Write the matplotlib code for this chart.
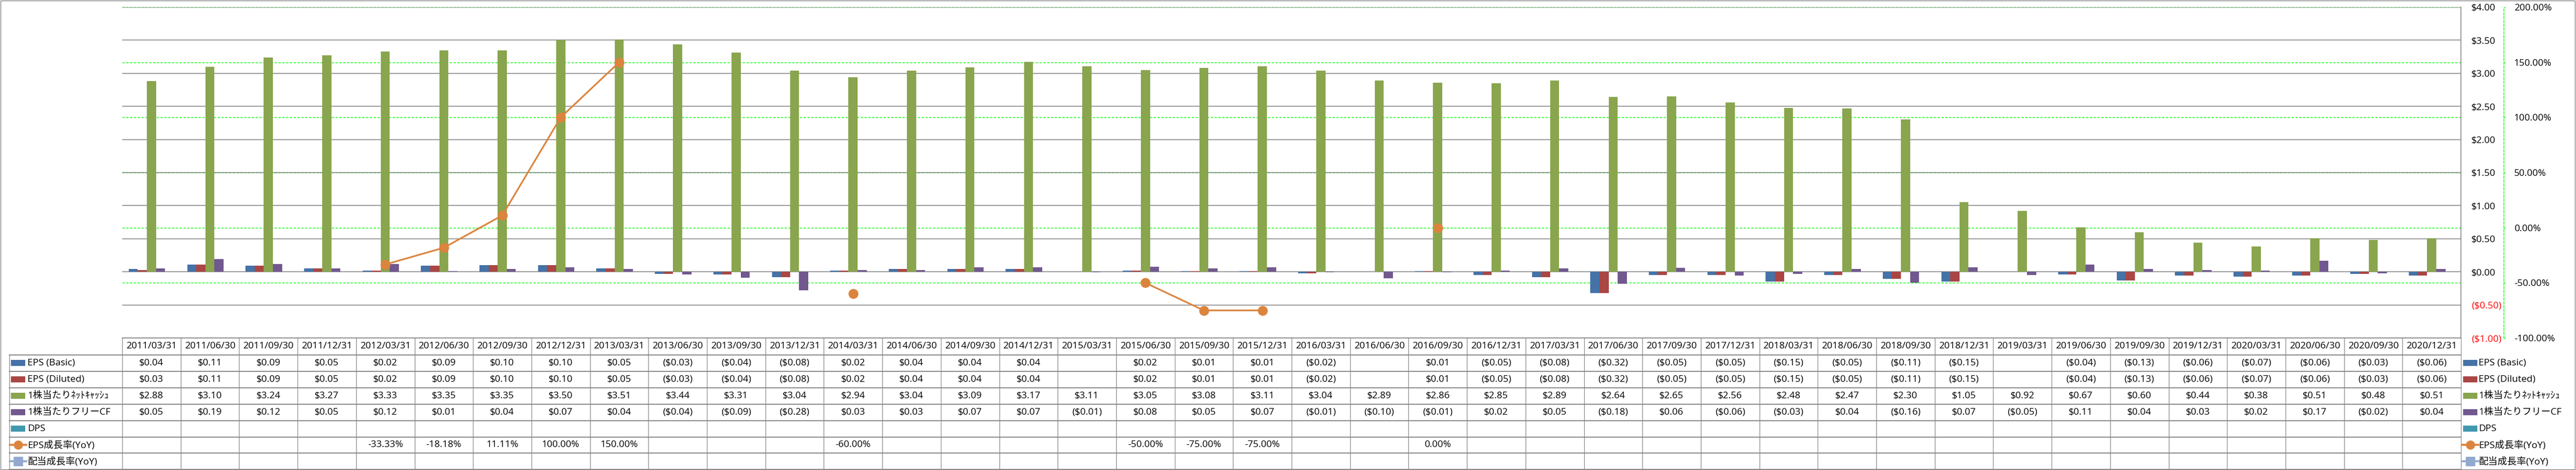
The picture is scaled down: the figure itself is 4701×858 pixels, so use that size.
"""
EPS / net cash per share chart with a data table underneath (Excel style)
"""
import numpy as np
import matplotlib
matplotlib.use('Agg')
import matplotlib.pyplot as plt
from matplotlib.transforms import blended_transform_factory
from matplotlib.patches import Rectangle
from matplotlib.lines import Line2D

plt.rcParams['font.family'] = ['Open Sans', 'Noto Sans CJK JP', 'DejaVu Sans']

########################################################################################################################
# Data
########################################################################################################################

dates = ['2011/03/31', '2011/06/30', '2011/09/30', '2011/12/31', '2012/03/31', '2012/06/30', '2012/09/30',
         '2012/12/31', '2013/03/31', '2013/06/30', '2013/09/30', '2013/12/31', '2014/03/31', '2014/06/30',
         '2014/09/30', '2014/12/31', '2015/03/31', '2015/06/30', '2015/09/30', '2015/12/31', '2016/03/31',
         '2016/06/30', '2016/09/30', '2016/12/31', '2017/03/31', '2017/06/30', '2017/09/30', '2017/12/31',
         '2018/03/31', '2018/06/30', '2018/09/30', '2018/12/31', '2019/03/31', '2019/06/30', '2019/09/30',
         '2019/12/31', '2020/03/31', '2020/06/30', '2020/09/30', '2020/12/31']

eps_basic = [0.04, 0.11, 0.09, 0.05, 0.02, 0.09, 0.10, 0.10, 0.05, -0.03, -0.04, -0.08, 0.02, 0.04, 0.04, 0.04,
             None, 0.02, 0.01, 0.01, -0.02, None, 0.01, -0.05, -0.08, -0.32, -0.05, -0.05, -0.15, -0.05, -0.11,
             -0.15, None, -0.04, -0.13, -0.06, -0.07, -0.06, -0.03, -0.06]

eps_diluted = [0.03, 0.11, 0.09, 0.05, 0.02, 0.09, 0.10, 0.10, 0.05, -0.03, -0.04, -0.08, 0.02, 0.04, 0.04, 0.04,
               None, 0.02, 0.01, 0.01, -0.02, None, 0.01, -0.05, -0.08, -0.32, -0.05, -0.05, -0.15, -0.05, -0.11,
               -0.15, None, -0.04, -0.13, -0.06, -0.07, -0.06, -0.03, -0.06]

net_cash = [2.88, 3.10, 3.24, 3.27, 3.33, 3.35, 3.35, 3.50, 3.51, 3.44, 3.31, 3.04, 2.94, 3.04, 3.09, 3.17,
            3.11, 3.05, 3.08, 3.11, 3.04, 2.89, 2.86, 2.85, 2.89, 2.64, 2.65, 2.56, 2.48, 2.47, 2.30, 1.05,
            0.92, 0.67, 0.60, 0.44, 0.38, 0.51, 0.48, 0.51]

free_cf = [0.05, 0.19, 0.12, 0.05, 0.12, 0.01, 0.04, 0.07, 0.04, -0.04, -0.09, -0.28, 0.03, 0.03, 0.07, 0.07,
           -0.01, 0.08, 0.05, 0.07, -0.01, -0.10, -0.01, 0.02, 0.05, -0.18, 0.06, -0.06, -0.03, 0.04, -0.16, 0.07,
           -0.05, 0.11, 0.04, 0.03, 0.02, 0.17, -0.02, 0.04]

dps = [None] * 40

eps_growth = [None, None, None, None, -33.33, -18.18, 11.11, 100.00, 150.00, None, None, None, -60.00, None,
              None, None, None, -50.00, -75.00, -75.00, None, None, 0.00, None, None, None, None, None, None,
              None, None, None, None, None, None, None, None, None, None, None]

div_growth = [None] * 40

bar_names = ['EPS (Basic)', 'EPS (Diluted)', '1株当たりﾈｯﾄｷｬｯｼｭ', '1株当たりフリーCF', 'DPS']
line_names = ['EPS成長率(YoY)', '配当成長率(YoY)']

usd_ticks = [-1.0, -0.5, 0.0, 0.5, 1.0, 1.5, 2.0, 2.5, 3.0, 3.5, 4.0]
pct_ticks = [-100, -50, 0, 50, 100, 150, 200]

########################################################################################################################
# Style / layout (pixels in a 4701x858 canvas)
########################################################################################################################

W, H = 4701, 858
PL, PR, PT, PB = 223, 4491, 13, 617
TAB_L = 17
HEAD_B = 648
ROW_H = 29.9
FS = 12.5
GRAY = '#868686'
LIME = '#00FF00'
bar_colors = ['#4572A7', '#AA4643', '#89A54E', '#71588F', '#4198AF']
line_colors = ['#DB843D', '#93A9CF']


def to_arr(vals):
    return np.array([np.nan if v is None else v for v in vals], dtype=float)


def money(v):
    if v is None or np.isnan(v):
        return ''
    if v < 0:
        return '(${:.2f})'.format(-v)
    return '${:.2f}'.format(v)


def pct(v):
    if v is None or np.isnan(v):
        return ''
    return '{:.2f}%'.format(v)


bars = [to_arr(s) for s in (eps_basic, eps_diluted, net_cash, free_cf, dps)]
lines = [to_arr(s) for s in (eps_growth, div_growth)]
n = len(dates)
x = np.arange(n) + 0.5

fig = plt.figure(figsize=(W / 100, H / 100), dpi=100)

# overlay in pixel coords for the table, legend and border
tab = fig.add_axes([0, 0, 1, 1], zorder=0)
tab.set_xlim(0, W)
tab.set_ylim(H, 0)
tab.axis('off')

ax = fig.add_axes([PL / W, 1 - PB / H, (PR - PL) / W, (PB - PT) / H], zorder=1)
ax.patch.set_alpha(0)
ax2 = ax.twinx()
ax2.set_zorder(2)

# bars
bw = 0.1556
for k, vals in enumerate(bars):
    ax.bar(x + (k - 2) * bw, vals, width=bw, color=bar_colors[k], linewidth=0, zorder=2)

lo, hi = usd_ticks[0], usd_ticks[-1]
plo, phi = pct_ticks[0], pct_ticks[-1]
ax.set_xlim(0, n)
ax.set_ylim(lo, hi)
ax.set_xticks([])
ax.yaxis.tick_right()
ax.yaxis.set_label_position('right')
ax.set_yticks(usd_ticks)
ax.set_yticklabels([money(v) for v in usd_ticks])
for lbl, v in zip(ax.get_yticklabels(), usd_ticks):
    lbl.set_color('red' if v < 0 else 'black')
ax.tick_params(axis='y', which='both', left=False, labelleft=False, right=True, labelright=True,
               length=0, pad=13.7, labelsize=FS)
ax.grid(axis='y', color=GRAY, linewidth=1.1)
ax.set_axisbelow(True)
for s in ['left', 'top', 'bottom']:
    ax.spines[s].set_visible(False)
ax.spines['right'].set_color(GRAY)
ax.spines['right'].set_linewidth(1.1)

# secondary gridlines (green dashed), behind bars
for p in pct_ticks:
    ax.axhline(lo + (p - plo) / (phi - plo) * (hi - lo), color=LIME, linewidth=1.0,
               linestyle=(0, (3, 2)), zorder=0.4)

# secondary axis with growth lines
ax2.plot(x, lines[0], color=line_colors[0], linewidth=2.2, marker='o', markersize=12, zorder=3)
ax2.plot(x, lines[1], color=line_colors[1], linewidth=2.2, marker='s', markersize=10, zorder=3)
ax2.set_xlim(0, n)
ax2.set_ylim(plo, phi)
ax2.set_yticks(pct_ticks)
ax2.set_yticklabels([pct(v) for v in pct_ticks])
for lbl, v in zip(ax2.get_yticklabels(), pct_ticks):
    lbl.set_color('red' if v < 0 else 'black')
ax2.tick_params(axis='y', direction='out', length=2.2, width=1, color=LIME, pad=11.5, labelsize=FS)
for s in ['left', 'top', 'bottom']:
    ax2.spines[s].set_visible(False)
ax2.spines['right'].set_position(('outward', 56))
ax2.spines['right'].set_color(LIME)
ax2.spines['right'].set_linestyle((0, (3, 2)))
ax2.spines['right'].set_linewidth(1.0)

########################################################################################################################
# Data table
########################################################################################################################

tr = blended_transform_factory(ax.transData, tab.transData)
row_y = [HEAD_B + r * ROW_H for r in range(8)]

# horizontal lines
tab.plot([PL, PR], [PB, PB], color=GRAY, linewidth=1.1)
for yy in row_y:
    tab.plot([TAB_L, PR], [yy, yy], color=GRAY, linewidth=1.3)
# vertical lines
for i in range(n + 1):
    tab.plot([i, i], [PB, row_y[-1]], color=GRAY, linewidth=0.8, transform=tr)
tab.plot([TAB_L, TAB_L], [HEAD_B, row_y[-1]], color=GRAY, linewidth=0.8)

# header
for i, d in enumerate(dates):
    tab.text(i + 0.5, (PB + HEAD_B) / 2, d, ha='center', va='center', fontsize=FS, transform=tr)

# rows
table_rows = [[money(v) for v in s] for s in bars] + [[pct(v) for v in s] for s in lines]
for r, cells in enumerate(table_rows):
    yc = row_y[r] + ROW_H / 2
    for i, c in enumerate(cells):
        if c:
            tab.text(i + 0.5, yc, c, ha='center', va='center', fontsize=FS, transform=tr)


def draw_key(x0, yc, r):
    if r < len(bar_names):
        tab.add_patch(Rectangle((x0, yc - 5.5), 26, 11, color=bar_colors[r], linewidth=0))
    else:
        c = line_colors[r - len(bar_names)]
        tab.add_line(Line2D([x0 - 2, x0 + 28], [yc, yc], color=c, linewidth=2.6))
        tab.plot([x0 + 13], [yc], marker='o' if r == len(bar_names) else 's', markersize=11, color=c)


all_names = bar_names + line_names
for r, name in enumerate(all_names):
    yc = row_y[r] + ROW_H / 2
    # left label column
    draw_key(20, yc, r)
    tab.text(50, yc, name, ha='left', va='center', fontsize=FS)
    # legend on the right
    draw_key(4495, yc, r)
    tab.text(4523, yc, name, ha='left', va='center', fontsize=FS)

# chart border
tab.add_patch(Rectangle((0.5, 0.5), W - 2.5, H - 1.5, fill=False, edgecolor=GRAY, linewidth=1.0))

fig.savefig('out.png', dpi=100)
